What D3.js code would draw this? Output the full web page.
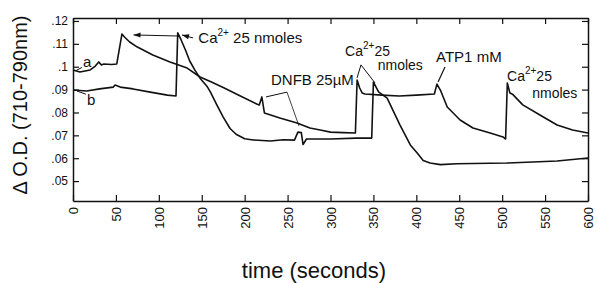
<!DOCTYPE html>
<html>
<head>
<meta charset="utf-8">
<script src="https://cdn.jsdelivr.net/npm/d3@7"></script>
<style>
body { margin: 0; background: #fff; }
text { font-family: "Liberation Sans", Arial, sans-serif; fill: #111; }
</style>
</head>
<body>
<svg id="chart" width="596" height="283"></svg>
<script>
// trace a (time in s, delta OD)
var traceA_t = [0, 8, 20, 26, 30, 33, 36, 45, 51, 57, 60, 66, 75, 93, 113, 133, 148, 160, 175, 195, 214, 217, 220, 223, 241, 261, 276, 288, 300, 315, 329, 331, 334, 337, 340, 360, 380, 400, 421, 424, 428, 436, 451, 466, 486, 501, 504, 506, 509, 512, 524, 544, 564, 582, 600];
var traceA_v = [0.0986, 0.0977, 0.0986, 0.1003, 0.1021, 0.1008, 0.1012, 0.1010, 0.1012, 0.1143, 0.1130, 0.1108, 0.1086, 0.1051, 0.1021, 0.0994, 0.0955, 0.0935, 0.0909, 0.0872, 0.0837, 0.0833, 0.0868, 0.0798, 0.0776, 0.0754, 0.0732, 0.0723, 0.0714, 0.0712, 0.0710, 0.0942, 0.0907, 0.0885, 0.0881, 0.0876, 0.0872, 0.0876, 0.0881, 0.0924, 0.0898, 0.0824, 0.0767, 0.0732, 0.0710, 0.0693, 0.0684, 0.0929, 0.0885, 0.0880, 0.0833, 0.0789, 0.0745, 0.0723, 0.0710];
// trace b
var traceB_t = [0, 16, 31, 47, 49, 52, 55, 70, 90, 110, 120, 122, 126, 131, 136, 142, 148, 156, 160, 168, 175, 183, 190, 200, 210, 230, 245, 258, 262, 266, 268, 272, 300, 330, 348, 350, 356, 366, 381, 393, 401, 408, 416, 428, 447, 505, 564, 600];
var traceB_v = [0.0898, 0.0894, 0.0903, 0.0911, 0.0920, 0.0916, 0.0911, 0.0903, 0.0889, 0.0876, 0.0872, 0.1148, 0.1117, 0.1073, 0.1025, 0.0985, 0.0950, 0.0915, 0.0890, 0.0830, 0.0780, 0.0730, 0.0705, 0.0685, 0.0680, 0.0675, 0.0681, 0.0679, 0.0714, 0.0712, 0.0660, 0.0684, 0.0684, 0.0688, 0.0688, 0.0933, 0.0890, 0.0863, 0.0745, 0.0658, 0.0623, 0.0590, 0.0579, 0.0572, 0.0576, 0.0579, 0.0588, 0.0601];

var xTicks = [0, 50, 100, 150, 200, 250, 300, 350, 400, 450, 500, 550, 600];
var yTicks = [0.05, 0.06, 0.07, 0.08, 0.09, 0.10, 0.11, 0.12];
var yTickLabels = [".05", ".06", ".07", ".08", ".09", ".1", ".11", ".12"];

var svg = d3.select("#chart");
var pLeft = 73, pRight = 588, pTop = 18, pBottom = 201;

var x = d3.scaleLinear().domain([0, 600]).range([pLeft, pRight]);
var y = d3.scaleLinear().domain([0.0413, 0.1213]).range([pBottom, pTop]);

// axes / frame
var gx = svg.append("g").attr("transform", "translate(0," + pBottom + ")")
  .call(d3.axisBottom(x).tickValues(xTicks).tickSize(-6).tickSizeOuter(0).tickPadding(6));
gx.selectAll("text")
  .attr("transform", "rotate(-90)")
  .attr("x", -6).attr("y", 0).attr("dy", "0.35em")
  .style("text-anchor", "end")
  .style("font-size", "13px");

var gy = svg.append("g").attr("transform", "translate(" + pLeft + ",0)")
  .call(d3.axisLeft(y).tickValues(yTicks).tickSize(-6).tickSizeOuter(0).tickPadding(5)
    .tickFormat(function(d, i) { return yTickLabels[i]; }));
gy.selectAll("text").style("font-size", "12px");

svg.append("g").attr("transform", "translate(0," + pTop + ")")
  .call(d3.axisTop(x).tickValues(xTicks).tickSize(-6).tickSizeOuter(0).tickFormat(""));
svg.append("g").attr("transform", "translate(" + pRight + ",0)")
  .call(d3.axisRight(y).tickValues(yTicks).tickSize(-6).tickSizeOuter(0).tickFormat(""));

svg.selectAll(".domain").attr("stroke", "#111").attr("stroke-width", 1.5);
svg.selectAll(".tick line").attr("stroke", "#111").attr("stroke-width", 1.2);

// traces
var line = d3.line().x(function(d) { return x(d[0]); }).y(function(d) { return y(d[1]); });
[[traceA_t, traceA_v], [traceB_t, traceB_v]].forEach(function(tr) {
  svg.append("path")
    .datum(d3.zip(tr[0], tr[1]))
    .attr("d", line)
    .attr("fill", "none")
    .attr("stroke", "#111")
    .attr("stroke-width", 1.6)
    .attr("stroke-linejoin", "round");
});

// axis titles
svg.append("text")
  .attr("transform", "translate(27," + 105 + ") rotate(-90)")
  .attr("text-anchor", "middle")
  .style("font-size", "20px")
  .text("\u0394 O.D. (710-790nm)");

svg.append("text")
  .attr("x", 314).attr("y", 278)
  .attr("text-anchor", "middle")
  .style("font-size", "22px")
  .text("time (seconds)");

// annotations
function ca(t, v, rest, fs) {
  var tx = svg.append("text").attr("x", x(t)).attr("y", y(v)).style("font-size", (fs || 15) + "px");
  tx.append("tspan").text("Ca");
  tx.append("tspan").attr("dy", -7).style("font-size", "10px").text("2+");
  tx.append("tspan").attr("dy", 7).text(rest);
}
function note(t, v, s, fs) {
  svg.append("text").attr("x", x(t)).attr("y", y(v)).style("font-size", (fs || 15) + "px").text(s);
}
function seg(t1, v1, t2, v2, w) {
  svg.append("line")
    .attr("x1", x(t1)).attr("y1", y(v1)).attr("x2", x(t2)).attr("y2", y(v2))
    .attr("stroke", "#111").attr("stroke-width", w || 1);
}
function head(t1, v1, t2, v2) {
  // small arrowhead at (t2,v2), coming from (t1,v1)
  var x1 = x(t1), y1 = y(v1), x2 = x(t2), y2 = y(v2);
  var a = Math.atan2(y2 - y1, x2 - x1), L = 7, W = 2.5;
  var bx = x2 - L * Math.cos(a), by = y2 - L * Math.sin(a);
  svg.append("path")
    .attr("d", "M" + x2 + "," + y2 + "L" + (bx + W * Math.sin(a)) + "," + (by - W * Math.cos(a)) +
      "L" + (bx - W * Math.sin(a)) + "," + (by + W * Math.cos(a)) + "Z")
    .attr("fill", "#111");
}

ca(146, 0.1104, " 25 nmoles");
seg(124.7, 0.1134, 70.5, 0.1139, 1);
head(124.7, 0.1134, 70.5, 0.1139);
seg(139.8, 0.1126, 127, 0.1139, 1);
head(139.8, 0.1126, 127, 0.1139);

note(230.7, 0.0920, "DNFB 25\u00b5M");
seg(249.3, 0.0889, 224.9, 0.0868, 1);
seg(249.3, 0.0889, 263.3, 0.0741, 0.8);

ca(317, 0.1047, "25", 14);
note(355, 0.0985, "nmoles", 14);
seg(335.5, 0.1008, 330.9, 0.0951, 1);
seg(335.5, 0.1008, 351.9, 0.0929, 1);

note(423, 0.1021, "ATP1 mM");
seg(433.4, 0.0999, 425.3, 0.0933, 1.2);

ca(505.7, 0.0937, "25", 14);
note(535, 0.0864, "nmoles", 14);

note(11.7, 0.0999, "a");
seg(3.5, 0.0983, 10.5, 0.0997, 1);
note(16.3, 0.0833, "b");
seg(4.5, 0.0894, 15, 0.0880, 1);
</script>
</body>
</html>
